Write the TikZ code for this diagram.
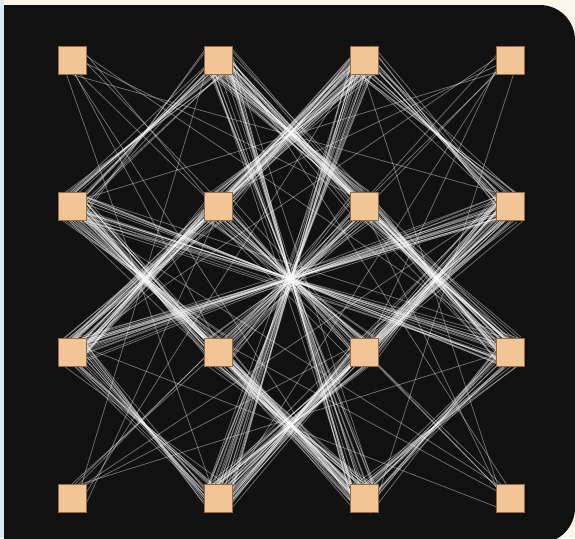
\documentclass[tikz,border=0pt]{standalone}
\usepackage{tikz}
\usetikzlibrary{calc}
\definecolor{panel}{RGB}{17,17,17}
\definecolor{chipfill}{RGB}{242,197,150}
\definecolor{chipedge}{RGB}{150,108,70}
\definecolor{paper}{RGB}{250,246,236}
\definecolor{sky}{RGB}{218,236,242}
\pgfdeclarelayer{back}
\pgfdeclarelayer{wires}
\pgfsetlayers{back,wires,main}

\begin{document}
\begin{tikzpicture}[x=0.02cm, y=-0.02cm,
    chip/.style={rectangle, draw=chipedge, fill=chipfill, line width=0.4pt, minimum size=0.56cm, inner sep=0pt},
    wire/.style={white, opacity=0.38, line width=0.45pt}]
    \useasboundingbox (0,0) rectangle (575,538);
    \pgfmathsetseed{4711}

    % panel
    \begin{pgfonlayer}{back}
        \fill[paper] (0,0) rectangle (575,538);
        \fill[sky] (0,0) rectangle (4,538);
        \begin{scope}
            \clip (4,5) rectangle (600,600);
            \fill[panel, rounded corners=20] (-40,5) rectangle (575,543);
        \end{scope}
    \end{pgfonlayer}

    % chips
    \foreach \i in {0,...,3}
        \foreach \j in {0,...,3}
            \node[chip] (c\i\j) at (72+146*\i, 60+146*\j) {};

    % wires
    \begin{pgfonlayer}{wires}
    \foreach \i in {0,...,3}
    \foreach \j in {0,...,3}
    \foreach \k in {0,...,3}
    \foreach \l in {0,...,3} {
        \pgfmathtruncatemacro\isok{and(and(4*\i+\j < 4*\k+\l, \i != \k), \j != \l)}
        \ifnum\isok=1
            \pgfmathtruncatemacro\iscorner{or(and(or(\i==0,\i==3),or(\j==0,\j==3)), and(or(\k==0,\k==3),or(\l==0,\l==3)))}
            \pgfmathtruncatemacro\iseven{mod(\i+\j+\k+\l,2)==0}
            \ifnum\iscorner=1
                % corner chips: one wire per partner
                \pgfmathsetmacro\ox{12*rand}
                \pgfmathsetmacro\oy{12*rand}
                \pgfmathsetmacro\px{12*rand}
                \pgfmathsetmacro\py{12*rand}
                \draw[wire] ($(c\i\j)+(\ox,\oy)$) -- ($(c\k\l)+(\px,\py)$);
            \else\ifnum\iseven=1
                % crossed pins, pinched at the midpoint
                \foreach \n in {1,...,14} {
                    \pgfmathsetmacro\ux{rand+0.001}
                    \pgfmathsetmacro\uy{rand}
                    \pgfmathsetmacro\us{14*(0.55+0.45*rnd)/max(abs(\ux),abs(\uy))}
                    \pgfmathsetmacro\ox{\us*\ux}
                    \pgfmathsetmacro\oy{\us*\uy}
                    \pgfmathsetmacro\px{3*rand-\ox}
                    \pgfmathsetmacro\py{3*rand-\oy}
                    \draw[wire] ($(c\i\j)+(\ox,\oy)$) -- ($(c\k\l)+(\px,\py)$);
                }
                % loose pins
                \foreach \n in {1,...,6} {
                    \pgfmathsetmacro\ox{13*rand}
                    \pgfmathsetmacro\oy{13*rand}
                    \pgfmathsetmacro\px{13*rand}
                    \pgfmathsetmacro\py{13*rand}
                    \draw[wire] ($(c\i\j)+(\ox,\oy)$) -- ($(c\k\l)+(\px,\py)$);
                }
            \fi\fi
        \fi
    }
    \end{pgfonlayer}
\end{tikzpicture}
\end{document}
